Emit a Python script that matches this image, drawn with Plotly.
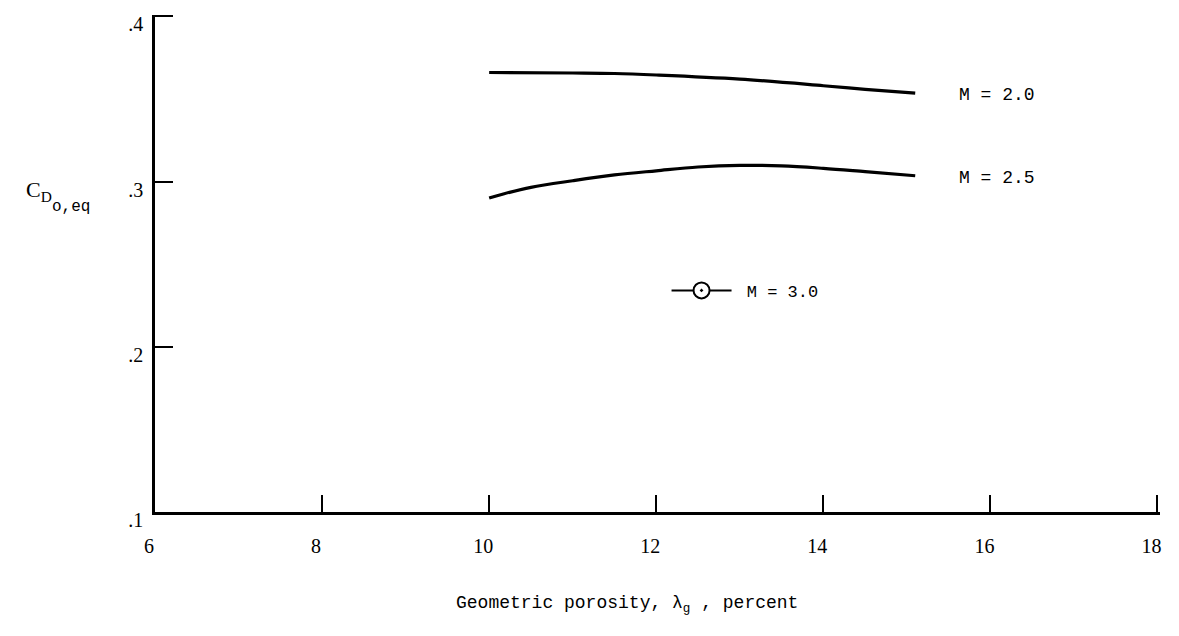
import plotly.graph_objects as go

# Data
m20_x = [10.0, 11.0, 11.5, 12.0, 13.0, 14.0, 14.5, 15.1]
m20_y = [0.366, 0.3657, 0.3654, 0.3645, 0.362, 0.358, 0.3558, 0.3535]

m25_x = [10.0, 10.17, 10.5, 11.0, 11.5, 12.0, 12.5, 13.0, 13.5, 14.0, 14.5, 15.1]
m25_y = [0.290, 0.2925, 0.2965, 0.3005, 0.304, 0.3065, 0.3088, 0.3098, 0.3095, 0.308, 0.306, 0.3035]

x_ticks = [6, 8, 10, 12, 14, 16, 18]
x_ticktext = ["6", "8", "10", "12", "14", "16", "18"]
y_ticks = [0.1, 0.2, 0.3, 0.4]
y_ticktext = [".1", ".2", ".3", ".4"]

series_labels = ["M = 2.0", "M = 2.5", "M = 3.0"]

mono = "Liberation Mono"
serif = "Liberation Serif"

fig = go.Figure()
fig.add_trace(go.Scatter(x=m20_x, y=m20_y, mode="lines", line=dict(color="black", width=3.2, shape="spline"),
                         showlegend=False))
fig.add_trace(go.Scatter(x=m25_x, y=m25_y, mode="lines", line=dict(color="black", width=3.2, shape="spline"),
                         showlegend=False))
# M = 3.0 key (no data curve in the figure)
fig.add_trace(go.Scatter(x=[None], y=[None], mode="lines+markers", name=" " + series_labels[2],
                         line=dict(color="black", width=2),
                         marker=dict(symbol="circle-dot", size=21, color="white",
                                     line=dict(color="black", width=2))))

for xs, ys, lab in [(m20_x, m20_y, series_labels[0]), (m25_x, m25_y, series_labels[1])]:
    fig.add_annotation(x=xs[-1], y=ys[-1], text=lab, showarrow=False, xanchor="left",
                       xshift=42, yshift=-2, font=dict(family=mono, size=18, color="black"))

# y-axis title C_{D_o,eq}
fig.add_annotation(xref="paper", yref="paper", x=-0.13, y=0.645, xanchor="left", yanchor="middle",
                   text="C<sub>D</sub>", showarrow=False,
                   font=dict(family=serif, size=22, color="black"))
fig.add_annotation(xref="paper", yref="paper", x=-0.104, y=0.645, xanchor="left", yanchor="middle",
                   text="o,eq", showarrow=False, yshift=-16,
                   font=dict(family=mono, size=16, color="black"))

fig.add_annotation(xref="paper", yref="paper", x=0.47, y=-0.187, xanchor="center", yanchor="middle",
                   text="Geometric porosity, \u03bb<sub>g</sub> , percent", showarrow=False,
                   font=dict(family=mono, size=18, color="black"))

fig.update_layout(
    width=1179, height=636,
    margin=dict(l=147, r=27, t=7, b=132, autoexpand=False),
    paper_bgcolor="white", plot_bgcolor="white",
    showlegend=True,
    legend=dict(x=0.509, y=0.445, xanchor="left", yanchor="middle", bgcolor="rgba(0,0,0,0)",
                font=dict(family=mono, size=17, color="black"), itemwidth=60),
    xaxis=dict(range=[6, 18.03], tickvals=x_ticks, ticktext=x_ticktext, showgrid=False, zeroline=False,
               automargin=False,
               showline=True, linecolor="black", linewidth=2.5, ticks="inside", ticklen=17, tickwidth=2,
               tickcolor="black", ticklabelstandoff=14, ticklabelshift=-6,
               tickfont=dict(family=serif, size=20, color="black")),
    yaxis=dict(range=[0.1, 0.4008], tickvals=y_ticks, ticktext=y_ticktext, showgrid=False, zeroline=False,
               automargin=False,
               showline=True, linecolor="black", linewidth=2.5, ticks="inside", ticklen=18, tickwidth=2,
               tickcolor="black", ticklabelstandoff=5, ticklabelshift=8,
               tickfont=dict(family=serif, size=20, color="black")),
)

fig.write_html("out.html")
